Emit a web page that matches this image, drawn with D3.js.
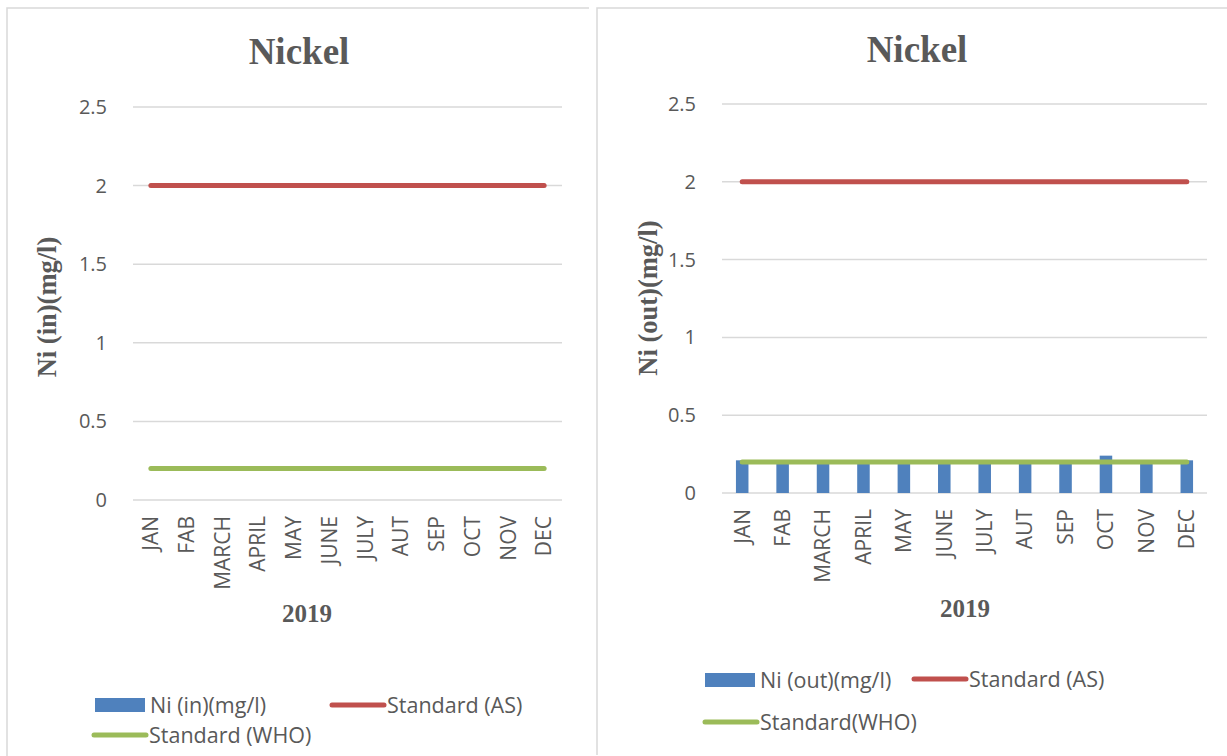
<!DOCTYPE html>
<html>
<head>
<meta charset="utf-8">
<script src="https://cdn.jsdelivr.net/npm/d3@7"></script>
<style>
  html, body { margin: 0; padding: 0; background: #fff; }
  svg { display: block; }
</style>
</head>
<body>
<svg id="chart" width="1227" height="756"></svg>
<script>
// Monthly nickel concentrations (2019) with the AS and WHO limits
const months = ["JAN", "FAB", "MARCH", "APRIL", "MAY", "JUNE", "JULY", "AUT", "SEP", "OCT", "NOV", "DEC"];
const niIn = [0, 0, 0, 0, 0, 0, 0, 0, 0, 0, 0, 0];
const niOut = [0.21, 0.21, 0.21, 0.21, 0.21, 0.21, 0.21, 0.21, 0.21, 0.24, 0.21, 0.21];
const standardAS = [2, 2, 2, 2, 2, 2, 2, 2, 2, 2, 2, 2];
const standardWHO = [0.2, 0.2, 0.2, 0.2, 0.2, 0.2, 0.2, 0.2, 0.2, 0.2, 0.2, 0.2];
const yTicks = [0, 0.5, 1, 1.5, 2, 2.5];

const BLUE = "#4f81bd", RED = "#c0504d", GREEN = "#9bbb59";
const GRID = "#d9d9d9", TEXT = "#595959";
const SANS = "'Open Sans', 'Liberation Sans', sans-serif";
const SERIF = "'Liberation Serif', 'Times New Roman', serif";

const svg = d3.select("#chart");

function drawPanel(cfg) {
  const g = svg.append("g");

  // panel frame (top and left edges)
  g.append("path")
    .attr("d", `M${cfg.frame.x0},${cfg.frame.y1} V${cfg.frame.y0} H${cfg.frame.x1}`)
    .attr("fill", "none").attr("stroke", GRID).attr("stroke-width", 1.5);

  const x = d3.scaleBand().domain(months).range([cfg.left, cfg.right]);
  const y = d3.scaleLinear().domain([0, 2.5]).range([cfg.bottom, cfg.top]);

  // horizontal gridlines
  g.append("g").selectAll("line").data(yTicks).join("line")
    .attr("x1", cfg.left).attr("x2", cfg.right)
    .attr("y1", d => y(d)).attr("y2", d => y(d))
    .attr("stroke", GRID).attr("stroke-width", 1.5);

  // y axis tick labels
  const yAxis = d3.axisLeft(y).tickValues(yTicks).tickSize(0).tickPadding(26)
    .tickFormat(d3.format("~g"));
  const ya = g.append("g").attr("transform", `translate(${cfg.left},0)`).call(yAxis);
  ya.select(".domain").remove();
  ya.selectAll("text").attr("fill", TEXT).style("font-family", SANS).style("font-size", "20px");

  // x axis category labels, rotated
  const xAxis = d3.axisBottom(x).tickSize(0).tickPadding(0);
  const xa = g.append("g").attr("transform", `translate(0,${cfg.bottom})`).call(xAxis);
  xa.select(".domain").remove();
  xa.selectAll("text")
    .attr("fill", TEXT).style("font-family", SANS).style("font-size", "21px")
    .attr("transform", "rotate(-90)")
    .attr("text-anchor", "end")
    .attr("x", -16).attr("y", 0).attr("dy", "0.35em");

  // measured values as bars
  const bw = x.bandwidth() * 0.31;
  g.append("g").selectAll("rect").data(cfg.values).join("rect")
    .attr("x", (d, i) => x(months[i]) + x.bandwidth() / 2 - bw / 2)
    .attr("y", d => y(d))
    .attr("width", bw)
    .attr("height", d => y(0) - y(d))
    .attr("fill", BLUE);

  // standard limits as lines
  const line = d3.line()
    .x((d, i) => x(months[i]) + x.bandwidth() / 2)
    .y(d => y(d));
  g.append("path").datum(standardAS).attr("d", line)
    .attr("fill", "none").attr("stroke", RED).attr("stroke-width", 5).attr("stroke-linecap", "round");
  g.append("path").datum(standardWHO).attr("d", line)
    .attr("fill", "none").attr("stroke", GREEN).attr("stroke-width", 5).attr("stroke-linecap", "round");

  // title
  g.append("text").attr("x", cfg.titleX).attr("y", cfg.titleY)
    .attr("text-anchor", "middle").attr("fill", TEXT)
    .style("font-family", SERIF).style("font-weight", "bold").style("font-size", "37px")
    .text("Nickel");

  // axis titles
  g.append("text")
    .attr("transform", `translate(${cfg.yTitleX},${cfg.yTitleY}) rotate(-90)`)
    .attr("text-anchor", "middle").attr("fill", TEXT)
    .style("font-family", SERIF).style("font-weight", "bold").style("font-size", "26.5px")
    .text(cfg.yTitle);
  g.append("text").attr("x", cfg.xTitleX).attr("y", cfg.xTitleY)
    .attr("text-anchor", "middle").attr("fill", TEXT)
    .style("font-family", SERIF).style("font-weight", "bold").style("font-size", "25px")
    .text("2019");

  // legend
  const L = cfg.legend;
  const lg = g.append("g").style("font-family", SANS).style("font-size", "21.5px").attr("fill", TEXT);
  lg.append("rect").attr("x", L.bar[0]).attr("y", L.bar[1] - 7).attr("width", 50).attr("height", 14).attr("fill", BLUE);
  lg.append("text").attr("x", L.bar[0] + 55).attr("y", L.bar[1]).attr("dy", "0.35em").text(cfg.seriesName);
  lg.append("line").attr("x1", L.as[0]).attr("x2", L.as[0] + 52).attr("y1", L.as[1]).attr("y2", L.as[1])
    .attr("stroke", RED).attr("stroke-width", 5).attr("stroke-linecap", "round");
  lg.append("text").attr("x", L.as[0] + 55).attr("y", L.as[1]).attr("dy", "0.35em").text("Standard (AS)");
  lg.append("line").attr("x1", L.who[0]).attr("x2", L.who[0] + 52).attr("y1", L.who[1]).attr("y2", L.who[1])
    .attr("stroke", GREEN).attr("stroke-width", 5).attr("stroke-linecap", "round");
  lg.append("text").attr("x", L.who[0] + 55).attr("y", L.who[1]).attr("dy", "0.35em").text(cfg.whoName);
}

drawPanel({
  frame: { x0: 7, x1: 589, y0: 8, y1: 760 },
  left: 133, right: 562, top: 107, bottom: 500,
  values: niIn,
  titleX: 299, titleY: 64,
  yTitle: "Ni (in)(mg/l)", yTitleX: 56, yTitleY: 307,
  xTitleX: 307, xTitleY: 622,
  seriesName: "Ni (in)(mg/l)", whoName: "Standard (WHO)",
  legend: { bar: [95, 705], as: [332, 705], who: [94, 735] }
});

drawPanel({
  frame: { x0: 597, x1: 1240, y0: 8, y1: 755 },
  left: 722, right: 1207, top: 104, bottom: 493,
  values: niOut,
  titleX: 917, titleY: 62,
  yTitle: "Ni (out)(mg/l)", yTitleX: 657, yTitleY: 298,
  xTitleX: 965, xTitleY: 617,
  seriesName: "Ni (out)(mg/l)", whoName: "Standard(WHO)",
  legend: { bar: [705, 680], as: [914, 679], who: [705, 722] }
});
</script>
</body>
</html>
